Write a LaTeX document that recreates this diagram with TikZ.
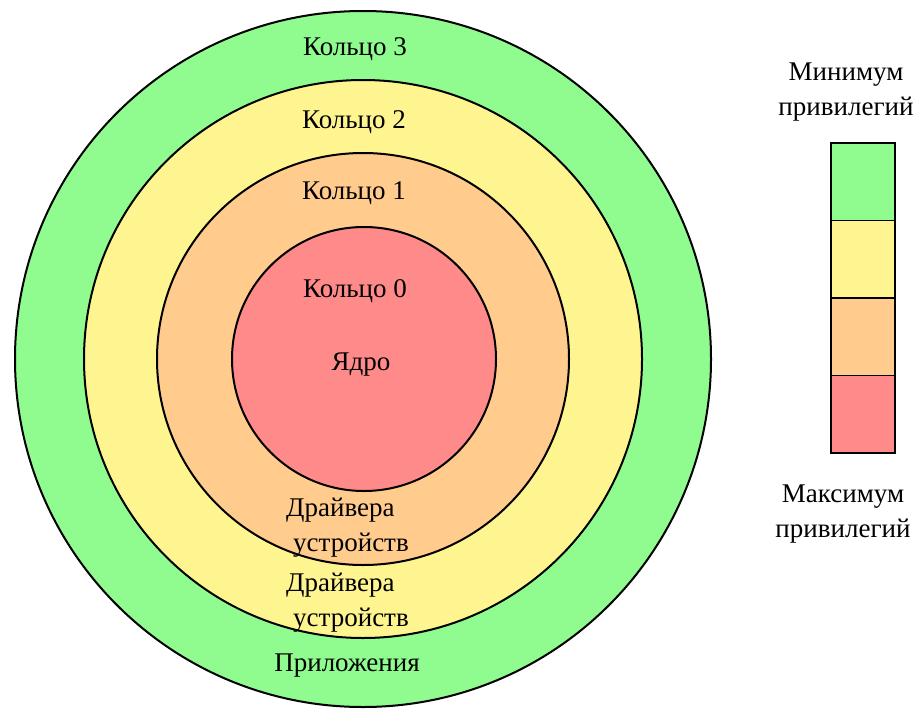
\documentclass[tikz,border=0pt]{standalone}
\usepackage{fontspec}
\setmainfont{Liberation Serif}
\usetikzlibrary{positioning}

\definecolor{ringgreen}{HTML}{90FC90}
\definecolor{ringyellow}{HTML}{FFF590}
\definecolor{ringorange}{HTML}{FFCC8E}
\definecolor{ringred}{HTML}{FF8A8A}

\tikzset{
  ring/.style={circle, draw, line width=2pt, inner sep=0pt},
  cell/.style={draw, line width=1.5pt, outer sep=0pt, inner sep=0pt,
    minimum width=64pt, minimum height=77.5pt},
  label/.style={inner sep=0pt, font=\fontsize{27}{35}\selectfont}
}

\begin{document}
\begin{tikzpicture}[x=1pt, y=-1pt]
\useasboundingbox (0,0) rectangle (920,709);

% rings, from outside in
\node[ring, fill=ringgreen, minimum size=696pt] (r3) at (363,359) {};
\node[ring, fill=ringyellow, minimum size=558pt] (r2) at (363,359) {};
\node[ring, fill=ringorange, minimum size=412pt] (r1) at (363,359) {};
\node[ring, fill=ringred, minimum size=264pt] (r0) at (364,359) {};

\node[label] (l3) at (355,49) {Кольцо 3};
\node[label] (l2) at (354,122) {Кольцо 2};
\node[label] (l1) at (354,193) {Кольцо 1};
\node[label] (l0) at (355,291) {Кольцо 0};
\node[label] (core) at (361,365) {Ядро};
\node[label, align=left, anchor=west] (drv1) at (286,528)
    {Драйвера\\\hspace*{7pt}устройств};
\node[label, align=left, anchor=west] (drv2) at (286,603)
    {Драйвера\\\hspace*{7pt}устройств};
\node[label] (apps) at (347,666) {Приложения};

% legend
\node[cell, fill=ringgreen] (c3) at (863,181.75) {};
\node[cell, fill=ringyellow, below=0pt of c3] (c2) {};
\node[cell, fill=ringorange, below=0pt of c2] (c1) {};
\node[cell, fill=ringred, below=0pt of c1] (c0) {};

\node[label, align=center] (minpriv) at (846,92) {Минимум\\привилегий};
\node[label, align=center] (maxpriv) at (843,514) {Максимум\\привилегий};
\end{tikzpicture}
\end{document}
